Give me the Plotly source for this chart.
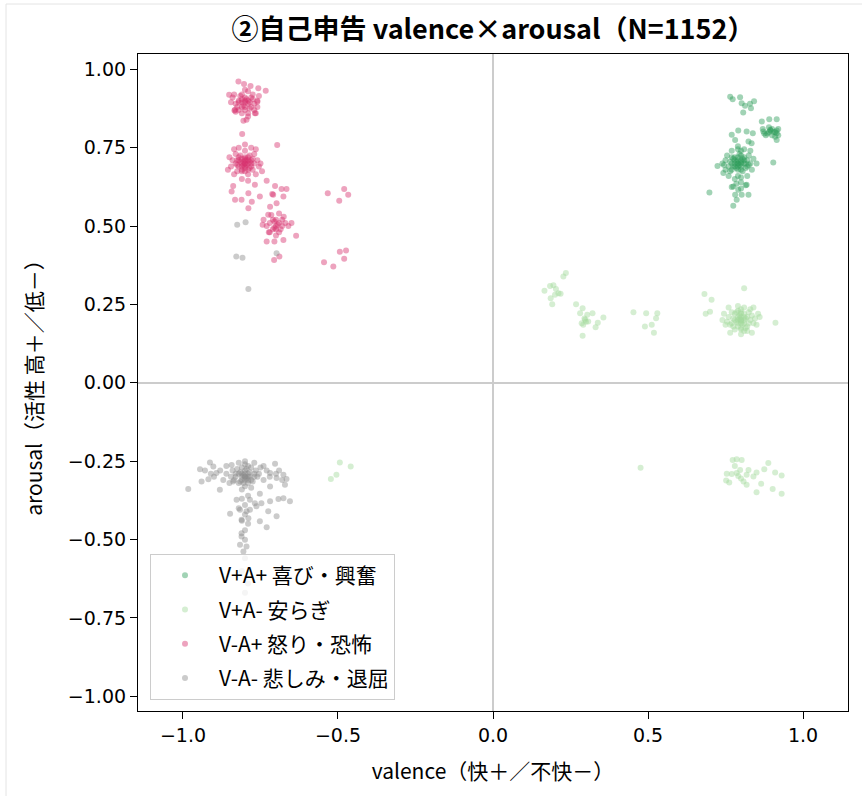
import plotly.graph_objects as go

# ---------------- data ----------------
# V+A+ (joy / excitement)
pos_pos_core = [(0.79,0.70),(0.80,0.71),(0.78,0.69),(0.79,0.72),(0.81,0.70),(0.77,0.70),(0.80,0.68),(0.78,0.71),
    (0.82,0.69),(0.79,0.68),(0.76,0.69),(0.81,0.72),(0.80,0.70),(0.78,0.72),(0.77,0.68),(0.82,0.71),(0.79,0.66),
    (0.80,0.74),(0.75,0.71),(0.83,0.70),(0.785,0.705),(0.795,0.695),(0.805,0.715),(0.775,0.715),(0.815,0.685),
    (0.765,0.675),(0.825,0.725),(0.755,0.725),(0.835,0.68),(0.745,0.695),(0.79,0.745),(0.81,0.745),(0.77,0.74),
    (0.80,0.655),(0.78,0.65),(0.82,0.66),(0.76,0.66),(0.84,0.715),(0.74,0.70),(0.85,0.70),(0.79,0.70),(0.80,0.69),
    (0.78,0.70),(0.79,0.71),(0.81,0.71),(0.77,0.72),(0.80,0.725),(0.785,0.685),(0.805,0.675),(0.795,0.73),
    (0.765,0.705),(0.825,0.695),(0.79,0.69),(0.80,0.705),(0.775,0.69),(0.815,0.70),(0.79,0.755),(0.80,0.64),
    (0.83,0.74),(0.75,0.68),(0.815,0.63),(0.785,0.635),(0.77,0.625),(0.80,0.62)]
pos_pos_right = [(0.89,0.80),(0.90,0.81),(0.91,0.80),(0.88,0.79),(0.90,0.79),(0.92,0.81),(0.87,0.81),(0.89,0.815),
    (0.91,0.785),(0.885,0.795),(0.905,0.80),(0.92,0.79),(0.895,0.805),(0.875,0.795),(0.915,0.805),
    (0.867,0.834),(0.891,0.841),(0.915,0.841),(0.872,0.802),(0.894,0.807),(0.915,0.796),(0.915,0.775),(0.904,0.703)]
pos_pos_spread = [(0.765,0.913),(0.773,0.905),(0.797,0.911),(0.802,0.892),(0.813,0.884),(0.829,0.890),(0.842,0.898),
    (0.807,0.862),(0.832,0.876),(0.775,0.626),(0.791,0.616),(0.781,0.600),(0.802,0.600),(0.786,0.584),(0.775,0.565),
    (0.824,0.600),(0.818,0.632),(0.698,0.607),(0.770,0.791),(0.791,0.805),(0.818,0.802),(0.838,0.796),(0.781,0.775),
    (0.824,0.770),(0.834,0.764),(0.724,0.692),(0.743,0.669)]

# V+A- (calm)
pos_neg_core = [(0.80,0.20),(0.79,0.21),(0.81,0.19),(0.80,0.22),(0.78,0.20),(0.82,0.21),(0.79,0.18),(0.81,0.22),
    (0.77,0.19),(0.83,0.20),(0.80,0.19),(0.79,0.20),(0.81,0.20),(0.80,0.21),(0.78,0.22),(0.82,0.18),(0.76,0.21),
    (0.84,0.19),(0.80,0.17),(0.79,0.23),(0.785,0.195),(0.795,0.215),(0.805,0.185),(0.815,0.205),(0.775,0.205),
    (0.825,0.225),(0.765,0.185),(0.835,0.215),(0.755,0.195),(0.845,0.205),(0.80,0.235),(0.81,0.165),(0.78,0.17),
    (0.82,0.165),(0.77,0.225),(0.83,0.235),(0.75,0.185),(0.85,0.185),(0.74,0.20),(0.86,0.21),(0.80,0.155),
    (0.79,0.245),(0.81,0.24),(0.765,0.16),(0.835,0.16),(0.80,0.20),(0.79,0.19),(0.81,0.21),(0.80,0.195),
    (0.795,0.205),(0.775,0.18),(0.825,0.19),(0.785,0.225),(0.815,0.175),(0.80,0.225),(0.80,0.175),(0.745,0.22),
    (0.855,0.22),(0.76,0.24),(0.84,0.24)]
pos_neg_spread = [(0.227,0.339),(0.235,0.350),(0.166,0.294),(0.184,0.309),(0.195,0.311),(0.203,0.299),(0.211,0.286),
    (0.218,0.284),(0.200,0.281),(0.186,0.270),(0.191,0.251),(0.268,0.251),(0.289,0.238),(0.281,0.222),(0.304,0.217),
    (0.321,0.222),(0.297,0.201),(0.286,0.190),(0.307,0.196),(0.291,0.185),(0.338,0.192),(0.356,0.208),(0.331,0.177),
    (0.289,0.150),(0.295,0.205),(0.300,0.195),(0.453,0.225),(0.494,0.222),(0.530,0.222),(0.526,0.206),(0.512,0.185),
    (0.490,0.180),(0.519,0.160),(0.682,0.283),(0.705,0.265),(0.686,0.220),(0.700,0.227),(0.810,0.302),(0.911,0.192)]
pos_neg_low = [(0.476,-0.271),(0.773,-0.246),(0.786,-0.244),(0.802,-0.246),(0.754,-0.290),(0.770,-0.291),
    (0.786,-0.288),(0.797,-0.278),(0.824,-0.278),(0.818,-0.293),(0.850,-0.286),(0.875,-0.276),(0.888,-0.256),
    (0.910,-0.286),(0.931,-0.296),(0.752,-0.312),(0.762,-0.318),(0.808,-0.315),(0.818,-0.325),(0.840,-0.299),
    (0.865,-0.322),(0.850,-0.349),(0.902,-0.339),(0.931,-0.354),(0.791,-0.297),(0.780,-0.265),(0.800,-0.305),
    (-0.494,-0.254),(-0.459,-0.267),(-0.505,-0.293),(-0.523,-0.307)]

# V-A+ (anger / fear)
neg_pos_top = [(-0.80,0.90),(-0.79,0.89),(-0.81,0.88),(-0.82,0.90),(-0.78,0.91),(-0.80,0.87),(-0.77,0.89),
    (-0.83,0.89),(-0.81,0.92),(-0.79,0.86),(-0.80,0.91),(-0.78,0.88),(-0.82,0.87),(-0.76,0.90),(-0.84,0.91),
    (-0.79,0.93),(-0.81,0.895),(-0.795,0.905),(-0.805,0.885),(-0.785,0.875),(-0.815,0.915),(-0.775,0.905),
    (-0.825,0.88),(-0.77,0.87),(-0.83,0.865),(-0.76,0.88),(-0.80,0.935),(-0.845,0.895),(-0.755,0.915),
    (-0.79,0.85),(-0.81,0.86),(-0.835,0.92),(-0.765,0.86),(-0.80,0.895),(-0.79,0.90),(-0.81,0.905),
    (-0.785,0.895),(-0.82,0.895),(-0.80,0.88),(-0.775,0.92),(-0.821,0.961),(-0.803,0.953),(-0.782,0.947),
    (-0.757,0.940),(-0.733,0.932),(-0.851,0.919),(-0.834,0.869),(-0.760,0.897),(-0.768,0.860)]
neg_pos_mid = [(-0.80,0.70),(-0.79,0.71),(-0.81,0.69),(-0.82,0.71),(-0.78,0.69),(-0.80,0.72),(-0.81,0.68),
    (-0.79,0.68),(-0.83,0.70),(-0.77,0.70),(-0.80,0.69),(-0.79,0.70),(-0.81,0.70),(-0.80,0.71),(-0.82,0.69),
    (-0.78,0.71),(-0.815,0.725),(-0.785,0.725),(-0.825,0.675),(-0.775,0.68),(-0.84,0.71),(-0.76,0.71),
    (-0.845,0.69),(-0.755,0.69),(-0.80,0.74),(-0.79,0.665),(-0.83,0.73),(-0.77,0.73),(-0.835,0.665),
    (-0.765,0.665),(-0.805,0.705),(-0.795,0.695),(-0.80,0.685),(-0.79,0.72),(-0.81,0.715),(-0.82,0.72),
    (-0.78,0.70),(-0.81,0.675),(-0.785,0.685),(-0.825,0.695),(-0.85,0.72),(-0.75,0.70),(-0.82,0.75),
    (-0.78,0.75),(-0.80,0.76),(-0.855,0.68),(-0.745,0.675),(-0.81,0.65),(-0.79,0.645),(-0.835,0.745),
    (-0.765,0.745),(-0.80,0.70),(-0.795,0.71),(-0.805,0.695),(-0.815,0.705),(-0.785,0.705),(-0.80,0.715),
    (-0.80,0.675),(-0.775,0.715),(-0.825,0.71),(-0.809,0.794),(-0.805,0.836),(-0.795,0.839),(-0.832,0.871),
    (-0.696,0.759)]
neg_pos_low = [(-0.70,0.50),(-0.69,0.51),(-0.71,0.49),(-0.70,0.52),(-0.68,0.50),(-0.72,0.51),(-0.69,0.48),
    (-0.71,0.52),(-0.70,0.49),(-0.68,0.52),(-0.72,0.48),(-0.67,0.51),(-0.73,0.50),(-0.695,0.505),(-0.705,0.495),
    (-0.685,0.49),(-0.715,0.535),(-0.675,0.53),(-0.66,0.50),(-0.74,0.52),(-0.70,0.47),(-0.69,0.54),(-0.65,0.51),
    (-0.705,0.515),(-0.838,0.628),(-0.843,0.610),(-0.832,0.584),(-0.811,0.584),(-0.789,0.605),(-0.778,0.578),
    (-0.789,0.557),(-0.768,0.632),(-0.752,0.594),(-0.730,0.645),(-0.703,0.628),(-0.682,0.618),(-0.666,0.618),
    (-0.709,0.600),(-0.712,0.602),(-0.676,0.594),(-0.698,0.573),(-0.719,0.562),(-0.725,0.536),(-0.743,0.504),
    (-0.723,0.480),(-0.706,0.392),(-0.689,0.403),(-0.730,0.451),(-0.705,0.451),(-0.676,0.456),(-0.635,0.469),
    (-0.533,0.605),(-0.480,0.618),(-0.467,0.600),(-0.496,0.581),(-0.494,0.418),(-0.474,0.422),(-0.545,0.385),
    (-0.515,0.371),(-0.480,0.396)]

# V-A- (sadness / boredom)
neg_neg_core = [(-0.80,-0.30),(-0.79,-0.29),(-0.81,-0.31),(-0.80,-0.28),(-0.82,-0.29),(-0.78,-0.31),(-0.81,-0.27),
    (-0.79,-0.32),(-0.83,-0.30),(-0.77,-0.29),(-0.80,-0.31),(-0.79,-0.30),(-0.81,-0.29),(-0.80,-0.26),(-0.82,-0.32),
    (-0.78,-0.27),(-0.84,-0.28),(-0.76,-0.30),(-0.80,-0.33),(-0.79,-0.265),(-0.805,-0.295),(-0.795,-0.305),
    (-0.785,-0.285),(-0.815,-0.315),(-0.775,-0.315),(-0.825,-0.275),(-0.765,-0.28),(-0.835,-0.31),(-0.755,-0.29),
    (-0.845,-0.30),(-0.80,-0.25),(-0.81,-0.34),(-0.78,-0.335),(-0.82,-0.255),(-0.77,-0.255),(-0.86,-0.29),
    (-0.74,-0.31),(-0.87,-0.31),(-0.73,-0.28),(-0.88,-0.28),(-0.72,-0.30),(-0.80,-0.30),(-0.79,-0.31),
    (-0.81,-0.30),(-0.80,-0.29),(-0.795,-0.275),(-0.805,-0.32),(-0.785,-0.30),(-0.815,-0.285),(-0.83,-0.29),
    (-0.77,-0.30),(-0.85,-0.32),(-0.75,-0.27),(-0.86,-0.265),(-0.74,-0.265),(-0.90,-0.30),(-0.70,-0.29),
    (-0.69,-0.28),(-0.91,-0.29),(-0.68,-0.31)]
neg_neg_spread = [(-0.945,-0.276),(-0.929,-0.280),(-0.913,-0.254),(-0.902,-0.267),(-0.940,-0.315),(-0.918,-0.308),
    (-0.892,-0.288),(-0.881,-0.341),(-0.983,-0.339),(-0.843,-0.262),(-0.838,-0.315),(-0.719,-0.288),(-0.703,-0.258),
    (-0.698,-0.304),(-0.676,-0.293),(-0.666,-0.307),(-0.671,-0.325),(-0.719,-0.331),(-0.752,-0.354),(-0.784,-0.373),
    (-0.827,-0.373),(-0.816,-0.405),(-0.795,-0.410),(-0.763,-0.394),(-0.747,-0.384),(-0.719,-0.378),(-0.692,-0.371),
    (-0.676,-0.368),(-0.655,-0.378),(-0.725,-0.410),(-0.698,-0.426),(-0.752,-0.442),(-0.730,-0.461),(-0.848,-0.418),
    (-0.811,-0.437),(-0.789,-0.432),(-0.784,-0.405),(-0.768,-0.384),(-0.811,-0.480),(-0.800,-0.501),(-0.816,-0.517),
    (-0.795,-0.522),(-0.805,-0.538),(-0.811,-0.490),(-0.81,-0.37),(-0.80,-0.39),(-0.82,-0.40),(-0.79,-0.36),
    (-0.80,-0.42),(-0.81,-0.44),(-0.79,-0.45),(-0.80,-0.47),(-0.80,-0.56),(-0.81,-0.60),(-0.79,-0.64),
    (-0.80,-0.67),(-0.825,0.504),(-0.798,0.512),(-0.828,0.403),(-0.808,0.399),(-0.698,0.413),(-0.789,0.299)]

labels = ["V+A+ 喜び・興奮", "V+A- 安らぎ", "V-A+ 怒り・恐怖", "V-A- 悲しみ・退屈"]
colors = ["#2e9e5a", "#a1d99b", "#d6326e", "#8c8c8c"]
groups = [pos_pos_core + pos_pos_right + pos_pos_spread,
          pos_neg_core + pos_neg_spread + pos_neg_low,
          neg_pos_top + neg_pos_mid + neg_pos_low,
          neg_neg_core + neg_neg_spread]

x_ticks = [-1.0, -0.5, 0.0, 0.5, 1.0]
y_ticks = [1.0, 0.75, 0.5, 0.25, 0.0, -0.25, -0.5, -0.75, -1.0]

FONT = "Noto Sans CJK JP"
TICKFONT = "DejaVu Sans"

fig = go.Figure()
for i, (lab, col, pts) in enumerate(zip(labels, colors, groups)):
    fig.add_trace(go.Scatter(
        x=[p[0] for p in pts], y=[p[1] for p in pts], mode="markers", name=lab,
        legendgroup=str(i),
        marker=dict(size=6, color=col, opacity=0.45, line=dict(width=0)),
    ))

# figure pixel geometry of the plotting area
L, R, T, B = 138, 848, 54, 711
def px(xp):
    return (xp - L) / (R - L)
def py(yp):
    return (B - yp) / (B - T)

fig.update_layout(
    width=862, height=796,
    margin=dict(l=L, r=862 - R, t=T, b=796 - B, autoexpand=False),
    paper_bgcolor="white", plot_bgcolor="white",
    font=dict(family=FONT, size=21, color="black"),
    title=dict(text="<b>②自己申告 valence×arousal（N=1152）</b>", x=0.5, xref="paper",
               y=1 - 30 / 796, yref="container", yanchor="middle", xanchor="center",
               font=dict(size=27, family=FONT)),
    legend=dict(x=px(150), y=py(700), xanchor="left", yanchor="bottom",
                bgcolor="rgba(255,255,255,0.8)", bordercolor="#cccccc", borderwidth=1,
                font=dict(size=21, family=FONT), traceorder="grouped", tracegroupgap=4,
                itemwidth=58),
    showlegend=True,
    shapes=[
        dict(type="line", xref="paper", yref="paper", x0=px(6), x1=px(862), y0=py(4), y1=py(4),
             line=dict(color="#e4e4e4", width=1), layer="below"),
        dict(type="line", xref="paper", yref="paper", x0=px(6), x1=px(6), y0=py(4), y1=py(796),
             line=dict(color="#e4e4e4", width=1), layer="below"),
    ],
)
fig.update_xaxes(range=[-1.145, 1.145], tickvals=x_ticks, tickformat=".1f", automargin=False,
                 showgrid=False, zeroline=True, zerolinecolor="#cccccc", zerolinewidth=1.5,
                 showline=True, linecolor="black", linewidth=1.2, mirror=True,
                 ticks="outside", ticklen=7, tickcolor="black",
                 tickfont=dict(size=19, family=TICKFONT),
                 title=dict(text="valence（快＋／不快－）", font=dict(size=21, family=FONT), standoff=19))
fig.update_yaxes(range=[-1.047, 1.049], tickvals=y_ticks, tickformat=".2f", automargin=False,
                 showgrid=False, zeroline=True, zerolinecolor="#cccccc", zerolinewidth=1.5,
                 showline=True, linecolor="black", linewidth=1.2, mirror=True,
                 ticks="outside", ticklen=7, tickcolor="black",
                 tickfont=dict(size=19, family=TICKFONT),
                 title=dict(text="arousal（活性 高＋／低－）", font=dict(size=21, family=FONT), standoff=19))

fig.write_html("out.html", post_script="document.body.style.margin='0';",
               config={"displayModeBar": False})
